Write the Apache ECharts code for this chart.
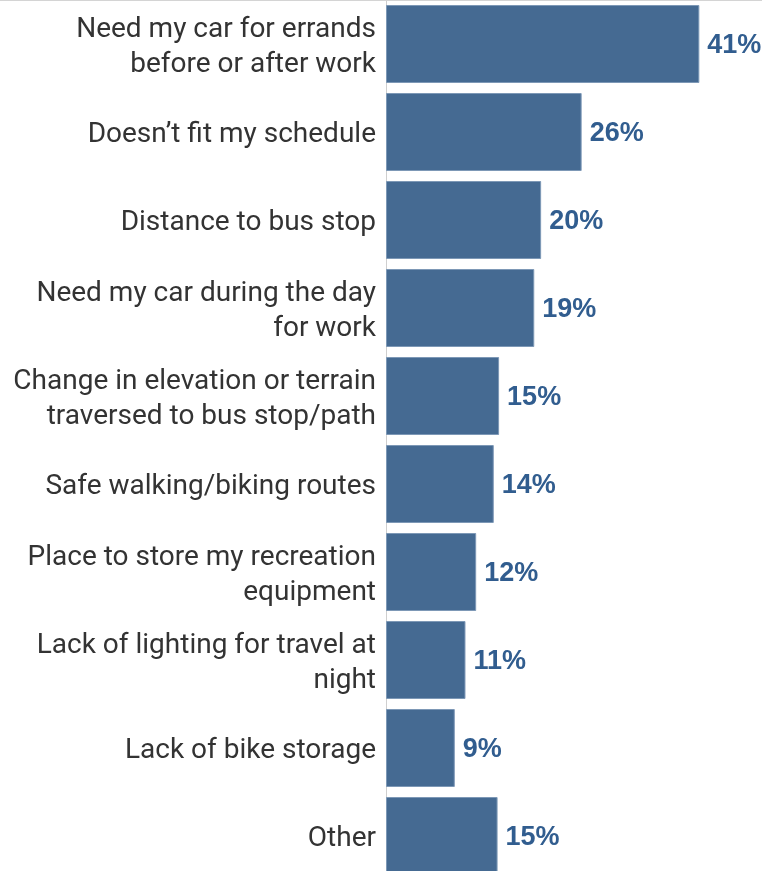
<!DOCTYPE html>
<html>
<head>
<meta charset="utf-8">
<script src="https://cdn.jsdelivr.net/npm/echarts@6/dist/echarts.min.js"></script>
<style>
html,body{margin:0;padding:0;background:#fff;}
#chart{width:762px;height:871px;}
</style>
</head>
<body>
<div id="chart"></div>
<script>
const categories = [
  "Need my car for errands\nbefore or after work",
  "Doesn\u2019t fit my schedule",
  "Distance to bus stop",
  "Need my car during the day\nfor work",
  "Change in elevation or terrain\ntraversed to bus stop/path",
  "Safe walking/biking routes",
  "Place to store my recreation\nequipment",
  "Lack of lighting for travel at\nnight",
  "Lack of bike storage",
  "Other"
];
const values = [41.0, 25.6, 20.3, 19.4, 14.8, 14.1, 11.8, 10.4, 9.0, 14.6];
const labelTexts = ["41%", "26%", "20%", "19%", "15%", "14%", "12%", "11%", "9%", "15%"];

const chart = echarts.init(document.getElementById('chart'), null, {renderer: 'canvas'});
chart.setOption({
  animation: false,
  graphic: [{
    type: 'line', shape: {x1: 0, y1: 0.5, x2: 762, y2: 0.5},
    style: {stroke: '#d4d4d4', lineWidth: 1}, z: 10
  }],
  grid: {left: 386, top: 0, width: 376, height: 880, containLabel: false, outerBoundsMode: 'none'},
  xAxis: {
    type: 'value', min: 0, max: 49.2, show: false
  },
  yAxis: {
    type: 'category', data: categories, inverse: true,
    axisLine: {show: true, lineStyle: {color: '#cfcfcf', width: 1}},
    axisTick: {show: false},
    axisLabel: {
      margin: 10, color: '#333333', fontFamily: 'Roboto', fontSize: 28,
      lineHeight: 35, align: 'right',
      formatter: v => '{s| }\n' + v.split('\n').map(s => '{t|' + s + '}').join('\n'),
      rich: {
        s: {fontSize: 1, lineHeight: 6},
        t: {fontFamily: 'Roboto', fontSize: 28, color: '#333333', lineHeight: 35}
      }
    },
    splitLine: {show: false}
  },
  series: [{
    type: 'bar', data: values, barWidth: 78,
    itemStyle: {color: '#456a92', borderColor: '#7d98b6', borderWidth: 1},
    label: {
      show: true, position: 'right', distance: 8, offset: [0, 2],
      formatter: p => labelTexts[p.dataIndex],
      color: '#315d8f', fontFamily: 'Liberation Sans', fontWeight: 'bold', fontSize: 27
    }
  }]
});
</script>
</body>
</html>
